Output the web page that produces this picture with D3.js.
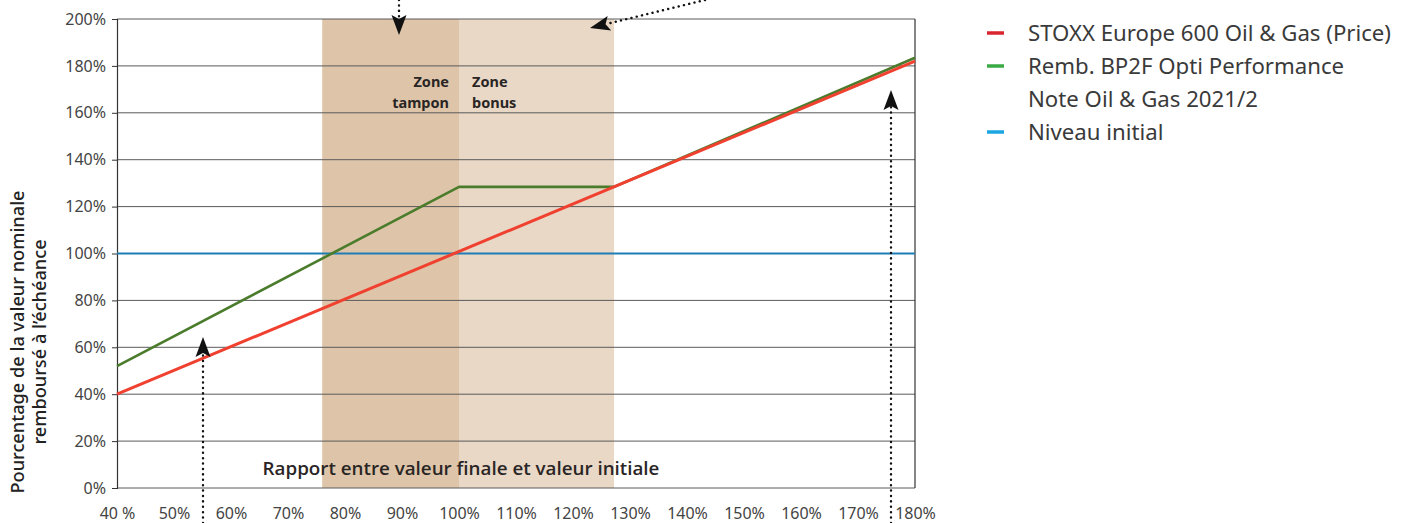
<!DOCTYPE html>
<html>
<head>
<meta charset="utf-8">
<script src="https://cdn.jsdelivr.net/npm/d3@7"></script>
<style>
  body { margin:0; background:#fff; }
  svg { display:block; }
  text { font-family: "Noto Sans", "DejaVu Sans", sans-serif; }
</style>
</head>
<body>
<svg id="chart" width="1409" height="523"></svg>
<script>
// ---- data ----
const xTicks = [40, 50, 60, 70, 80, 90, 100, 110, 120, 130, 140, 150, 160, 170, 180];
const xTickLabels = ["40 %", "50%", "60%", "70%", "80%", "90%", "100%", "110%", "120%", "130%", "140%", "150%", "160%", "170%", "180%"];
const yTicks = [0, 20, 40, 60, 80, 100, 120, 140, 160, 180, 200];
const stoxxX = [40, 180];
const stoxxY = [40, 182];
const noteX = [40, 100, 127.2, 180];
const noteY = [52, 128.4, 128.4, 183.5];
const initialX = [40, 180];
const initialY = [100, 100];
const zoneNames = ["Zone tampon", "Zone bonus"];
const zoneStart = [76, 100];
const zoneEnd = [100, 127.2];
const seriesNames = ["STOXX Europe 600 Oil & Gas (Price)", "Remb. BP2F Opti Performance\nNote Oil & Gas 2021/2", "Niveau initial"];
const xTitle = "Rapport entre valeur finale et valeur initiale";
const yTitle = ["Pourcentage de la valeur nominale", "remboursé à l’échéance"];

// ---- layout ----
const svg = d3.select("#chart");
const L = 117, R = 915, T = 19, B = 488;
const x = d3.scaleLinear().domain([40, 180]).range([L, R]);
const y = d3.scaleLinear().domain([0, 200]).range([B, T]);

// zones
const zoneFill = ["#dec5a9", "#e9d8c6"];
svg.append("g").selectAll("rect").data(zoneNames).join("rect")
  .attr("x", (d, i) => x(zoneStart[i]))
  .attr("width", (d, i) => x(zoneEnd[i]) - x(zoneStart[i]))
  .attr("y", y(200)).attr("height", y(0) - y(200))
  .attr("fill", (d, i) => zoneFill[i]);

// grid
svg.append("g").selectAll("line").data(yTicks).join("line")
  .attr("x1", L).attr("x2", R)
  .attr("y1", d => y(d)).attr("y2", d => y(d))
  .attr("stroke", "#5a5a5a").attr("stroke-width", 1);
svg.append("line").attr("x1", R).attr("x2", R).attr("y1", y(200)).attr("y2", y(0))
  .attr("stroke", "#333").attr("stroke-width", 1.2);

// y axis
const yAxis = d3.axisLeft(y).tickValues(yTicks).tickFormat(d => d + "%").tickSize(5).tickPadding(6);
const gy = svg.append("g").attr("transform", `translate(${L},0)`).call(yAxis);
gy.select(".domain").attr("stroke", "#333").attr("stroke-width", 1.2);
gy.selectAll(".tick line").attr("stroke", "#333");
gy.selectAll(".tick text").attr("fill", "#444").style("font-size", "16px")
  .style("font-family", "'Noto Sans', sans-serif");

// x axis (labels only)
const xAxis = d3.axisBottom(x).tickValues(xTicks).tickFormat((d, i) => xTickLabels[i]).tickSize(0).tickPadding(20);
const gx = svg.append("g").attr("transform", `translate(0,${B})`).call(xAxis);
gx.select(".domain").remove();
gx.selectAll(".tick text").attr("fill", "#444").style("font-size", "16px")
  .style("font-family", "'Noto Sans', sans-serif");

// lines
const line = d3.line().x(d => x(d[0])).y(d => y(d[1]));
svg.append("path").datum(initialX.map((v, i) => [v, initialY[i]]))
  .attr("d", line).attr("fill", "none").attr("stroke", "#1f7db6").attr("stroke-width", 2.2);
svg.append("path").datum(noteX.map((v, i) => [v, noteY[i]]))
  .attr("d", line).attr("fill", "none").attr("stroke", "#4a7c2c").attr("stroke-width", 2.6)
  .attr("stroke-linejoin", "round");
svg.append("path").datum(stoxxX.map((v, i) => [v, stoxxY[i]]))
  .attr("d", line).attr("fill", "none").attr("stroke", "#f0402f").attr("stroke-width", 3);

// zone labels
const zl = svg.append("g").style("font-family", "'Open Sans', sans-serif")
  .style("font-weight", "700").style("font-size", "14.5px").attr("fill", "#2a2525");
zl.append("text").attr("x", x(100) - 10).attr("y", 87).attr("text-anchor", "end").text(zoneNames[0].split(" ")[0]);
zl.append("text").attr("x", x(100) - 10).attr("y", 108).attr("text-anchor", "end").text(zoneNames[0].split(" ")[1]);
zl.append("text").attr("x", x(100) + 13).attr("y", 87).attr("text-anchor", "start").text(zoneNames[1].split(" ")[0]);
zl.append("text").attr("x", x(100) + 13).attr("y", 108).attr("text-anchor", "start").text(zoneNames[1].split(" ")[1]);

// x title inside plot
svg.append("text").attr("x", 461).attr("y", 475).attr("text-anchor", "middle")
  .style("font-family", "'Open Sans', sans-serif").style("font-weight", "600").style("font-size", "18.8px")
  .attr("fill", "#2a2525").text(xTitle);

// y title
const yt = svg.append("text").attr("transform", "translate(0,342) rotate(-90)")
  .attr("text-anchor", "middle").style("font-size", "18.2px").style("font-weight", "500").attr("fill", "#222")
  .style("font-family", "'Noto Sans', sans-serif");
yt.append("tspan").attr("x", 0).attr("y", 24).text(yTitle[0]);
yt.append("tspan").attr("x", 0).attr("y", 46).text(yTitle[1]);

// arrows (annotation)
const arrows = [
  [[399, 0], [399, 35]],
  [[705, 0], [590, 28]],
  [[203, 523], [203, 337]],
  [[891, 523], [891, 90]]
];
const ag = svg.append("g");
arrows.forEach(a => {
  const [p0, p1] = a;
  const dx = p1[0] - p0[0], dy = p1[1] - p0[1];
  const len = Math.hypot(dx, dy), ux = dx / len, uy = dy / len;
  const hl = 20, hw = 7.5;
  const bx = p1[0] - ux * hl, by = p1[1] - uy * hl;
  ag.append("line").attr("x1", p0[0]).attr("y1", p0[1]).attr("x2", bx + ux * 4).attr("y2", by + uy * 4)
    .attr("stroke", "#111").attr("stroke-width", 2.4)
    .attr("stroke-dasharray", "0.1 5.3").attr("stroke-linecap", "round");
  const nx = -uy, ny = ux;
  const notch = 4;
  ag.append("path")
    .attr("d", `M${p1[0]},${p1[1]} L${bx + nx * hw},${by + ny * hw} L${bx + ux * notch},${by + uy * notch} L${bx - nx * hw},${by - ny * hw} Z`)
    .attr("fill", "#111");
});

// legend
const legColors = ["#d9262e", "#3aaa44", "#1ba6e0"];
const legY = [33, 66, 132];
const lg = svg.append("g").style("font-family", "'Noto Sans', sans-serif").style("font-size", "22.2px")
  .attr("fill", "#3a3a3a");
seriesNames.forEach((name, i) => {
  lg.append("line").attr("x1", 987).attr("x2", 1004).attr("y1", legY[i]).attr("y2", legY[i])
    .attr("stroke", legColors[i]).attr("stroke-width", 3.5);
  name.split("\n").forEach((t, j) => {
    lg.append("text").attr("x", 1028).attr("y", legY[i] + 8 + j * 33).text(t);
  });
});
</script>
</body>
</html>
